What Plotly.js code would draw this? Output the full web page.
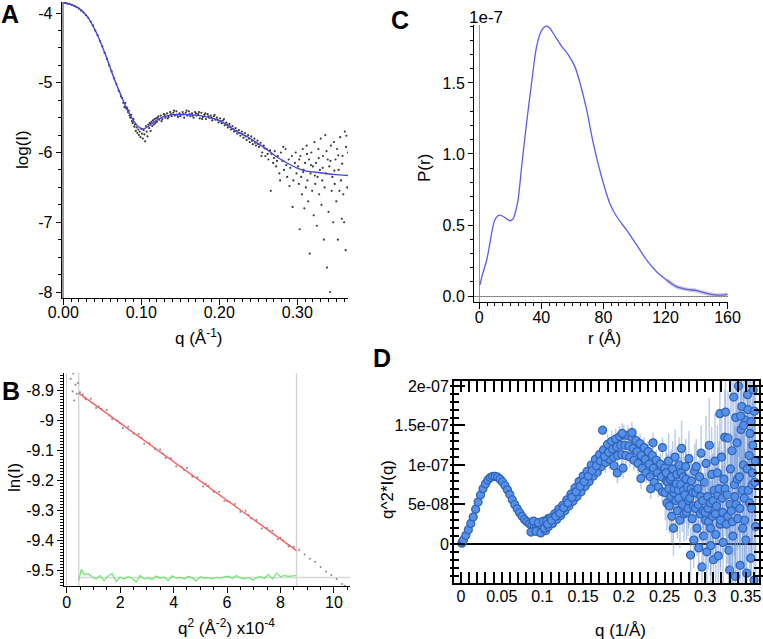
<!DOCTYPE html>
<html><head><meta charset="utf-8">
<script src="https://cdn.plot.ly/plotly-3.0.1.min.js"></script>
<style>html,body{margin:0;padding:0;background:#fff;}#chart{width:763px;height:639px;}</style>
</head><body><div id="chart"></div>
<script>
// ---------- Panel A : log(I) vs q ----------
const A_q1 = [0.002,0.005,0.008,0.011,0.014,0.017,0.020,0.023,0.026,0.029,0.032,0.035,0.038,0.041,0.044,0.047,0.050,0.053,0.056,0.059,0.062,0.065,0.068,0.071,0.074,0.077,0.080,0.0755,0.0785,0.0795];
const A_y1 = [-3.855,-3.862,-3.868,-3.884,-3.898,-3.917,-3.938,-3.967,-3.993,-4.032,-4.068,-4.122,-4.178,-4.252,-4.318,-4.402,-4.478,-4.572,-4.658,-4.752,-4.838,-4.935,-5.018,-5.115,-5.196,-5.287,-5.352,-5.22,-5.35,-5.29];
const A_q2 = [0.081,0.082,0.083,0.084,0.085,0.086,0.087,0.088,0.089,0.090,0.091,0.092,0.093,0.094,0.095,0.096,0.097,0.098,0.099,0.100,0.101,0.102,0.103,0.104,0.105,0.106,0.107,0.108,0.109,0.110,0.111,0.112,0.113,0.114,0.115,0.116,0.117,0.118,0.119,0.120];
const A_y2 = [-5.37,-5.36,-5.42,-5.40,-5.47,-5.50,-5.46,-5.55,-5.58,-5.52,-5.63,-5.60,-5.69,-5.64,-5.72,-5.67,-5.75,-5.70,-5.78,-5.66,-5.73,-5.80,-5.68,-5.74,-5.84,-5.62,-5.70,-5.77,-5.60,-5.65,-5.58,-5.69,-5.56,-5.62,-5.54,-5.60,-5.52,-5.58,-5.51,-5.56];
const A_q3 = [0.121,0.123,0.125,0.127,0.129,0.131,0.133,0.135,0.137,0.139,0.141,0.143,0.145,0.147,0.149,0.151,0.153,0.155,0.157,0.159,0.161,0.163,0.165,0.167,0.169,0.171,0.173,0.175,0.177,0.179,0.181,0.183,0.185,0.187,0.189,0.191,0.193,0.195,0.197,0.199,0.201,0.203,0.205,0.207,0.209,0.211,0.213,0.215,0.217,0.219,0.221,0.223,0.225,0.227,0.229,0.231,0.233,0.235,0.237,0.239,0.241,0.243,0.245,0.247,0.249];
const A_y3 = [-5.50,-5.53,-5.47,-5.52,-5.45,-5.50,-5.44,-5.49,-5.42,-5.48,-5.43,-5.47,-5.41,-5.49,-5.44,-5.46,-5.42,-5.50,-5.43,-5.47,-5.41,-5.48,-5.44,-5.50,-5.42,-5.47,-5.45,-5.51,-5.43,-5.49,-5.46,-5.52,-5.45,-5.50,-5.47,-5.54,-5.48,-5.53,-5.50,-5.57,-5.51,-5.58,-5.54,-5.61,-5.57,-5.64,-5.59,-5.67,-5.62,-5.70,-5.65,-5.73,-5.68,-5.76,-5.70,-5.79,-5.72,-5.82,-5.75,-5.85,-5.77,-5.88,-5.80,-5.90,-5.83];
const A_q4 = [0.122,0.126,0.130,0.134,0.138,0.142,0.146,0.150,0.154,0.158,0.162,0.166,0.170,0.174,0.178,0.182,0.186,0.190,0.194,0.198,0.202,0.206,0.210,0.214,0.218,0.222,0.226,0.230,0.234,0.238,0.242,0.246,0.250];
const A_y4 = [-5.48,-5.55,-5.46,-5.51,-5.45,-5.40,-5.46,-5.48,-5.45,-5.40,-5.45,-5.47,-5.44,-5.42,-5.52,-5.44,-5.48,-5.50,-5.46,-5.53,-5.55,-5.52,-5.60,-5.63,-5.66,-5.69,-5.72,-5.74,-5.77,-5.80,-5.83,-5.86,-5.88];
const A_q5 = [0.251,0.253,0.255,0.257,0.259,0.261,0.263,0.265,0.267,0.269,0.271,0.273,0.275,0.277,0.279,0.281,0.283,0.285,0.287,0.289,0.291,0.293,0.295,0.297,0.299,0.254,0.258,0.262,0.266,0.270,0.274,0.278,0.282,0.286,0.290,0.294,0.298];
const A_y5 = [-5.92,-5.86,-6.00,-5.90,-6.05,-5.95,-6.10,-5.97,-6.02,-6.15,-5.98,-6.20,-6.05,-6.30,-6.00,-6.12,-6.25,-5.95,-6.35,-6.10,-6.22,-6.05,-6.40,-6.15,-6.30,-6.05,-5.94,-6.02,-6.55,-6.08,-6.12,-6.40,-5.92,-6.18,-6.48,-6.78,-6.00];
const A_q6 = [0.301,0.302,0.303,0.304,0.305,0.306,0.307,0.308,0.309,0.310,0.311,0.312,0.313,0.314,0.315,0.316,0.317,0.318,0.319,0.320,0.321,0.322,0.323,0.324,0.325,0.326,0.327,0.328,0.329,0.330,0.331,0.332,0.333,0.334,0.335,0.336,0.337,0.338,0.339,0.340,0.341,0.342,0.343,0.344,0.345,0.346,0.347,0.348,0.349,0.350,0.351,0.352,0.353,0.354,0.355,0.356,0.357,0.358,0.359,0.360,0.361,0.362,0.363,0.364,0.365,0.3025,0.3075,0.3125,0.3175,0.3225,0.3275,0.3325,0.3375,0.3425,0.3475,0.3525,0.3575,0.3625];
const A_y6 = [-6.20,-6.45,-7.10,-6.05,-6.35,-6.60,-5.95,-6.25,-6.80,-6.15,-6.50,-5.90,-6.40,-6.70,-6.10,-7.45,-6.30,-6.00,-6.55,-6.20,-6.90,-5.85,-6.45,-6.15,-7.05,-6.35,-5.95,-6.60,-6.25,-5.80,-6.75,-6.40,-6.05,-7.25,-6.50,-5.75,-6.30,-7.65,-6.10,-6.85,-6.20,-8.00,-5.90,-6.55,-6.35,-7.00,-5.85,-6.45,-6.10,-6.70,-5.95,-7.25,-6.25,-6.55,-5.78,-6.40,-6.95,-6.05,-6.60,-7.00,-5.70,-7.40,-5.76,-6.50,-6.00,-6.10,-6.28,-6.02,-6.18,-6.33,-6.08,-6.22,-5.98,-6.12,-6.26,-6.04,-6.16,-5.92];
const A_fitQ = [0.0,0.0172,0.0295,0.0428,0.055,0.0642,0.0727,0.079,0.0855,0.092,0.0983,0.1026,0.109,0.1175,0.128,0.141,0.158,0.1752,0.194,0.2094,0.222,0.235,0.248,0.261,0.2735,0.2864,0.299,0.312,0.329,0.3462,0.3654];
const A_fitY = [-3.853,-3.91,-4.03,-4.29,-4.624,-4.91,-5.147,-5.314,-5.457,-5.576,-5.647,-5.662,-5.624,-5.553,-5.49,-5.457,-5.457,-5.471,-5.519,-5.6,-5.696,-5.767,-5.861,-5.957,-6.061,-6.147,-6.219,-6.267,-6.29,-6.314,-6.329];
const A_xticks = [0,0.10,0.20,0.30];
const A_xlabels = ['0.00','0.10','0.20','0.30'];
const A_yticks = [-8,-7,-6,-5,-4];
const A_ylabels = ['-8','-7','-6','-5','-4'];

// ---------- Panel C : P(r) (units of 1e-7) ----------
const C_r = [0.4,2,4.7,6.5,7.9,10,12,13.3,15.5,17.5,19.8,22,23.5,25,27.3,30.5,33.7,37,40.2,43.4,45.5,48.8,53,57.3,61.6,64.9,69.2,73.5,78.8,84.2,88.5,94.9,101.4,107.8,114.3,120.7,127.1,133.6,140,146.5,152.9,157,160];
const C_P = [0.077,0.15,0.25,0.35,0.44,0.535,0.565,0.57,0.56,0.545,0.53,0.547,0.6,0.676,0.91,1.22,1.50,1.76,1.87,1.90,1.885,1.83,1.76,1.70,1.615,1.50,1.31,1.075,0.84,0.65,0.56,0.465,0.36,0.254,0.171,0.113,0.066,0.047,0.038,0.019,0.007,0.007,0.012];
const C_xticks = [0,40,80,120,160];
const C_xlabels = ['0','40','80','120','160'];
const C_yticks = [0,0.5,1.0,1.5];
const C_ylabels = ['0.0','0.5','1.0','1.5'];

// ---------- Panel B : Guinier ----------
const B_q2 = [0.15,0.22,0.25,0.28,0.33,0.38,0.42,0.5,0.7,0.9,1.1,1.3,1.5,1.7,1.9,2.1,2.3,2.5,2.7,2.9,3.1,3.3,3.5,3.7,3.9,4.1,4.3,4.5,4.7,4.9,5.1,5.3,5.5,5.7,5.9,6.1,6.3,6.5,6.7,6.9,7.1,7.3,7.5,7.7,7.9,8.1,8.3,8.5,0.6,1.2,1.6,2.0,2.8,3.6,4.4,5.2,6.0,6.8,7.6,8.0,8.7,8.9,9.1,9.3,9.5,9.7,9.9,10.1,10.3,10.4];
const B_lnI = [-8.862,-8.905,-8.845,-8.935,-8.882,-8.912,-8.876,-8.907,-8.930,-8.929,-8.960,-8.962,-8.966,-8.996,-9.002,-9.026,-9.022,-9.045,-9.046,-9.079,-9.077,-9.096,-9.098,-9.126,-9.127,-9.154,-9.156,-9.160,-9.189,-9.191,-9.221,-9.219,-9.239,-9.239,-9.269,-9.273,-9.280,-9.306,-9.302,-9.328,-9.333,-9.361,-9.360,-9.369,-9.397,-9.401,-9.421,-9.422,-8.915,-8.955,-8.985,-9.010,-9.058,-9.112,-9.166,-9.212,-9.270,-9.316,-9.370,-9.392,-9.432,-9.448,-9.462,-9.472,-9.490,-9.505,-9.516,-9.530,-9.546,-9.552];
const B_fitRange = [0.45,8.6];
const B_fitLnI = [-8.91,-9.435];
const B_resQ2 = [0.45,0.55,0.65,0.8,0.95,1.1,1.25,1.4,1.55,1.7,1.85,2.0,2.15,2.3,2.45,2.6,2.75,2.9,3.05,3.2,3.35,3.5,3.65,3.8,3.95,4.1,4.25,4.4,4.55,4.7,4.85,5.0,5.15,5.3,5.45,5.6,5.75,5.9,6.05,6.2,6.35,6.5,6.65,6.8,6.95,7.1,7.25,7.4,7.55,7.7,7.85,8.0,8.15,8.3,8.45,8.6];
const B_res = [-9.535,-9.497,-9.515,-9.512,-9.522,-9.530,-9.518,-9.535,-9.520,-9.512,-9.538,-9.524,-9.530,-9.522,-9.527,-9.540,-9.518,-9.530,-9.525,-9.532,-9.520,-9.528,-9.523,-9.535,-9.519,-9.527,-9.524,-9.530,-9.521,-9.526,-9.536,-9.522,-9.527,-9.525,-9.529,-9.524,-9.526,-9.524,-9.520,-9.528,-9.518,-9.526,-9.529,-9.524,-9.533,-9.526,-9.522,-9.528,-9.514,-9.530,-9.510,-9.522,-9.518,-9.521,-9.519,-9.518];
const B_resLevel = -9.525;
const B_xticks = [0,2,4,6,8,10];
const B_xlabels = ['0','2','4','6','8','10'];
const B_yticks = [-9.5,-9.4,-9.3,-9.2,-9.1,-9.0,-8.9];
const B_ylabels = ['-9.5','-9.4','-9.3','-9.2','-9.1','-9','-8.9'];

// ---------- Panel D : Kratky q^2*I(q) (units of 1e-8) ----------
const D1_q = [0.001,0.002,0.003,0.006,0.009,0.012,0.015,0.018,0.021,0.024,0.027,0.030,0.033,0.036,0.039,0.042,0.045,0.048,0.051,0.054,0.057,0.060,0.063,0.066,0.069,0.072,0.075,0.078,0.081,0.084,0.087,0.090,0.093,0.096,0.099,0.086,0.089,0.092,0.095,0.098,0.101,0.104,0.107];
const D1_v = [0.1,0.3,0.5,1.1,1.8,2.6,3.4,4.4,5.3,6.2,7.0,7.6,8.1,8.4,8.55,8.55,8.45,8.2,7.85,7.4,6.85,6.25,5.6,5.0,4.45,3.95,3.5,3.1,2.8,2.55,2.35,2.2,2.1,2.05,2.15,1.5,2.9,1.6,2.7,1.4,2.9,1.7,3.2];
const D2_q = [0.1025,0.105,0.1075,0.110,0.1125,0.115,0.1175,0.120,0.1225,0.125,0.1275,0.130,0.1325,0.135,0.1375,0.140,0.1425,0.145,0.1475,0.150,0.1525,0.155,0.1575,0.160,0.1625,0.165,0.1675,0.170,0.1725,0.175,0.1063,0.1113,0.1163,0.1213,0.1263,0.1313,0.1363,0.1413,0.1463,0.1513,0.1563,0.1613,0.1663,0.1713,0.174];
const D2_v = [2.0,2.9,2.2,3.3,2.6,3.8,3.1,4.4,3.6,4.9,4.2,5.6,4.8,6.3,5.4,7.1,6.0,7.9,6.6,8.6,7.3,9.2,7.9,10.0,8.6,10.7,9.1,11.3,9.8,11.9,2.5,3.0,3.5,3.9,4.6,5.2,5.9,6.6,7.3,7.9,8.6,9.3,9.9,10.5,14.4];
const D3_q = [0.1775,0.180,0.1825,0.185,0.1875,0.190,0.1925,0.195,0.1975,0.200,0.2025,0.205,0.2075,0.210,0.2125,0.215,0.2175,0.220,0.2225,0.225,0.2275,0.230,0.2325,0.235,0.2375,0.240,0.2425,0.245,0.2475,0.250,0.1763,0.1813,0.1863,0.1913,0.1963,0.2013,0.2063,0.2113,0.2163,0.2213,0.2263,0.2313,0.2363,0.2413,0.2463,0.198,0.210,0.233,0.236,0.2475,0.221,0.192,0.199,0.188];
const D3_v = [10.3,12.6,10.7,13.0,11.0,13.3,11.2,13.6,11.3,13.8,11.2,13.7,11.0,13.5,10.6,13.1,10.2,12.7,9.6,12.2,9.0,11.7,8.5,11.2,7.8,10.6,7.2,10.1,6.6,9.6,11.1,11.6,12.0,12.3,12.5,12.5,12.4,12.1,11.7,11.2,10.7,10.1,9.6,9.0,8.5,14.0,14.1,7.0,12.8,12.2,8.3,9.0,9.6,9.9];
const D4_q = [0.251,0.252,0.2525,0.253,0.254,0.255,0.2555,0.256,0.257,0.258,0.2585,0.259,0.260,0.261,0.2615,0.262,0.263,0.264,0.2645,0.265,0.266,0.267,0.2675,0.268,0.269,0.270,0.2705,0.271,0.272,0.273,0.2735,0.274,0.275,0.276,0.2765,0.277,0.278,0.279,0.2795,0.280,0.281,0.282,0.2825,0.283,0.284,0.285,0.2855,0.286,0.287,0.288,0.2885,0.289,0.290,0.291,0.2915,0.292,0.293,0.294,0.2945,0.295,0.296,0.297,0.2975,0.298,0.299,0.300];
const D4_v = [6.5,9.0,8.0,5.2,7.8,10.5,7.0,4.8,8.2,6.0,8.5,3.5,9.5,2.0,6.5,7.0,11.0,5.5,7.6,8.8,4.2,6.8,5.8,10.0,3.0,7.5,9.0,12.1,5.0,8.5,6.8,3.8,6.2,9.8,8.2,4.0,7.2,4.5,5.5,10.8,5.8,-1.4,7.0,8.0,3.2,6.5,4.8,0.5,9.2,4.5,6.5,9.8,2.0,7.0,5.0,-0.5,8.5,3.8,6.0,11.5,-2.9,5.5,4.2,1.0,7.8,4.0];
const D5_q = [0.3005,0.301,0.302,0.303,0.3035,0.304,0.305,0.306,0.3065,0.307,0.308,0.309,0.3095,0.310,0.311,0.312,0.3125,0.313,0.314,0.315,0.3155,0.316,0.317,0.318,0.3185,0.319,0.320,0.321,0.3215,0.322,0.323,0.324,0.3245,0.325,0.326,0.327,0.3275,0.328,0.329,0.330];
const D5_v = [3.0,10.2,-1.0,6.0,4.5,2.8,12.5,5.2,2.0,-0.2,8.8,3.5,5.5,-2.0,6.8,10.5,3.8,1.2,4.8,9.0,6.2,-1.5,7.0,16.5,2.5,3.0,11.0,5.8,4.0,0.2,8.2,13.5,7.0,16.7,2.5,6.2,3.5,13.4,-0.8,-3.3];
const D6_q = [0.3305,0.331,0.332,0.333,0.3335,0.334,0.335,0.336,0.3365,0.337,0.338,0.339,0.3395,0.340,0.341,0.342,0.3425,0.343,0.344,0.345,0.3455,0.346,0.347,0.348,0.3485,0.349,0.350,0.351,0.3515,0.352,0.353,0.354,0.3545,0.355,0.356,0.357,0.3575,0.358,0.359,0.360,0.361,0.362,0.3375,0.3435,0.3472,0.3525,0.3562,0.3585,0.3605,0.3615];
const D6_v = [5.0,9.5,4.2,11.8,2.8,1.0,18.6,7.5,6.0,-4.1,5.0,12.8,8.2,3.2,20.0,8.5,4.5,-2.7,14.5,17.4,6.8,2.0,10.0,5.8,3.0,15.7,0.5,-3.7,9.5,18.9,6.8,11.2,5.2,14.0,-1.8,4.5,7.5,9.0,19.5,-4.6,7.8,2.2,16.0,16.2,15.0,17.0,15.5,12.5,16.8,10.5];
const D_err = [0.15,0.5,1.3,3.5,6,9];   // typical error-bar half-length per q range
const D_xticks = [0,0.05,0.1,0.15,0.2,0.25,0.3,0.35];
const D_xlabels = ['0','0.05','0.1','0.15','0.2','0.25','0.3','0.35'];
const D_yticks = [0,5,10,15,20];
const D_ylabels = ['0','5e-08','1e-07','1.5e-07','2e-07'];

// ---------- build ----------
const W = 763, H = 639;
const px = v => v / W, py = v => 1 - v / H;
const FONT = 'Liberation Sans, Arial, sans-serif';
const tf = {family: FONT, size: 16, color: '#000'};

const traces = [];
traces.push({x: [].concat(A_q1,A_q2,A_q3,A_q4,A_q5,A_q6), y: [].concat(A_y1,A_y2,A_y3,A_y4,A_y5,A_y6),
  xaxis:'x', yaxis:'y', mode:'markers', marker:{size:2.2, color:'#3a3a3a'}});
traces.push({x: A_fitQ, y: A_fitY, xaxis:'x', yaxis:'y', mode:'lines', line:{color:'#4444e4', width:1.4, shape:'spline', smoothing:0.8}});

traces.push({x: C_r.slice(35), y: C_P.slice(35), xaxis:'x2', yaxis:'y2', mode:'lines', line:{color:'rgba(150,150,160,0.45)', width:4, shape:'spline', smoothing:0.8}});
traces.push({x: C_r, y: C_P, xaxis:'x2', yaxis:'y2', mode:'lines', line:{color:'#5c5cf2', width:1.3, shape:'spline', smoothing:0.8}});

traces.push({x: B_q2, y: B_lnI, xaxis:'x3', yaxis:'y3', mode:'markers', marker:{size:2, color:'#888'}});
traces.push({x: B_fitRange, y: B_fitLnI, xaxis:'x3', yaxis:'y3', mode:'lines', line:{color:'#ff5a5a', width:1.3}});
traces.push({x: B_resQ2, y: B_res, xaxis:'x3', yaxis:'y3', mode:'lines', line:{color:'#6ae86a', width:1.2}});

const dMarker = {size:8, color:'#5591e8', line:{color:'#2f62b8', width:1.2}};
const dsets = [[D1_q,D1_v],[D2_q,D2_v],[D3_q,D3_v],[D4_q,D4_v],[D5_q,D5_v],[D6_q,D6_v]];
dsets.forEach((s,i) => traces.push({x:s[0], y:s[1], xaxis:'x4', yaxis:'y4', mode:'markers', marker:dMarker,
  error_y:{type:'constant', value:D_err[i], color:'rgba(105,145,215,0.45)', thickness:1.5, width:0}}));
traces.push({x:[], y:[], xaxis:'x4', yaxis:'y5', mode:'markers'});

const baseAx = {showgrid:false, showline:true, linecolor:'#000', linewidth:1, tickfont:tf, ticks:'outside', tickcolor:'#000', tickmode:'array', zeroline:false};

const layout = {
  width:W, height:H, margin:{l:0,r:0,t:0,b:0}, showlegend:false,
  paper_bgcolor:'#fff', plot_bgcolor:'rgba(0,0,0,0)', font:{family:FONT, color:'#000'},
  xaxis: Object.assign({}, baseAx, {domain:[px(61.7),px(348)], range:[-0.002,0.365], anchor:'y',
    tickvals:A_xticks, ticktext:A_xlabels, ticklen:6, ticklabelstandoff:-6, minor:{dtick:0.01, tick0:0, ticklen:3, ticks:'outside', tickcolor:'#000'},
    zeroline:true, zerolinecolor:'#999', zerolinewidth:2}),
  yaxis: Object.assign({}, baseAx, {domain:[py(298),py(2)], range:[-8.086,-3.842], anchor:'x',
    tickvals:A_yticks, ticktext:A_ylabels, ticklen:5, minor:{dtick:0.25, tick0:0, ticklen:3, ticks:'outside', tickcolor:'#000'}}),
  xaxis2: Object.assign({}, baseAx, {domain:[px(474),px(728)], range:[-3.4,160.3], anchor:'y2',
    tickvals:C_xticks, ticktext:C_xlabels, ticklen:6, ticklabelstandoff:-5, minor:{dtick:5, tick0:0, ticklen:3, ticks:'outside', tickcolor:'#000'},
    zeroline:true, zerolinecolor:'#999', zerolinewidth:1}),
  yaxis2: Object.assign({}, baseAx, {domain:[py(302),py(25)], range:[-0.042,1.908], anchor:'x2',
    tickvals:C_yticks, ticktext:C_ylabels, ticklen:5, minor:{dtick:0.1, tick0:0, ticklen:3, ticks:'outside', tickcolor:'#000'},
    zeroline:true, zerolinecolor:'#888', zerolinewidth:1}),
  xaxis3: Object.assign({}, baseAx, {domain:[px(64),px(350)], range:[-0.1,10.6], anchor:'y3',
    tickvals:B_xticks, ticktext:B_xlabels, ticklen:6, ticklabelstandoff:-4, minor:{dtick:0.5, tick0:0, ticklen:3, ticks:'outside', tickcolor:'#000'},
    zeroline:true, zerolinecolor:'#ccc', zerolinewidth:1}),
  yaxis3: Object.assign({}, baseAx, {domain:[py(586),py(373)], range:[-9.553,-8.843], anchor:'x3',
    tickvals:B_yticks, ticktext:B_ylabels, ticklen:6, minor:{dtick:0.01, tick0:0, ticklen:3, ticks:'outside', tickcolor:'#000'}}),
  xaxis4: Object.assign({}, baseAx, {domain:[px(454),px(759)], range:[-0.0086,0.3661], anchor:'y4',
    tickvals:D_xticks, ticktext:D_xlabels, ticks:'inside', ticklen:11, tickwidth:2, linewidth:2, mirror:'allticks', ticklabelstandoff:-2,
    minor:{dtick:0.01, tick0:0, ticklen:6, ticks:'inside', tickwidth:2, tickcolor:'#000'}}),
  yaxis4: Object.assign({}, baseAx, {domain:[py(583),py(381)], range:[-4.94,20.63], anchor:'x4',
    tickvals:D_yticks, ticktext:D_ylabels, ticks:'inside', ticklen:11, tickwidth:2, linewidth:2, mirror:'allticks',
    minor:{dtick:1, tick0:0, ticklen:5, ticks:'inside', tickwidth:2, tickcolor:'#000'},
    zeroline:true, zerolinecolor:'#000', zerolinewidth:1.5}),
  yaxis5: {overlaying:'y4', anchor:'x4', range:[-4.94,20.63], showgrid:false, zeroline:false, showline:false,
    showticklabels:false, ticks:'outside', ticklen:3, tickwidth:2, tickcolor:'#000', tickmode:'array', tickvals:D_yticks, mirror:'allticks',
    minor:{dtick:1, tick0:0, ticklen:3, ticks:'outside', tickwidth:2, tickcolor:'#000'}},
  shapes: [
    {type:'line', xref:'x3', yref:'y3 domain', x0:B_fitRange[0], x1:B_fitRange[0], y0:0, y1:1, line:{color:'#d6d6d6', width:1.5}, layer:'below'},
    {type:'line', xref:'x3', yref:'y3 domain', x0:B_fitRange[1], x1:B_fitRange[1], y0:0, y1:1, line:{color:'#d6d6d6', width:1.5}, layer:'below'},
    {type:'line', xref:'x3', yref:'y3', x0:B_fitRange[0], x1:10.6, y0:B_resLevel, y1:B_resLevel, line:{color:'#d6d6d6', width:1.5}, layer:'below'}
  ],
  annotations: []
};

function ann(text, x, y, opts) {
  layout.annotations.push(Object.assign({text:text, xref:'paper', yref:'paper', x:px(x), y:py(y), showarrow:false,
    font:{family:FONT, size:17, color:'#000'}, xanchor:'center', yanchor:'middle'}, opts||{}));
}
const bold = {font:{family:FONT, size:25, color:'#000'}};
ann('<b>A</b>', 10, 14, bold);
ann('<b>C</b>', 400, 20, bold);
ann('<b>B</b>', 11, 391, bold);
ann('<b>D</b>', 382, 358, bold);
ann('log(I)', 22, 150, {textangle:-90});
ann('q (Å<sup>-1</sup>)', 199, 337);
ann('P(r)', 424, 168, {textangle:-90});
ann('1e-7', 486, 17);
ann('r (Å)', 604, 338);
ann('ln(I)', 14, 478, {textangle:-90});
ann('q<sup>2</sup> (Å<sup>-2</sup>) x10<sup>-4</sup>', 227, 627);
ann('q^2*I(q)', 387, 490, {textangle:-90});
ann('q (1/Å)', 620, 630);

Plotly.newPlot('chart', traces, layout, {displayModeBar:false, staticPlot:true});
</script></body></html>
